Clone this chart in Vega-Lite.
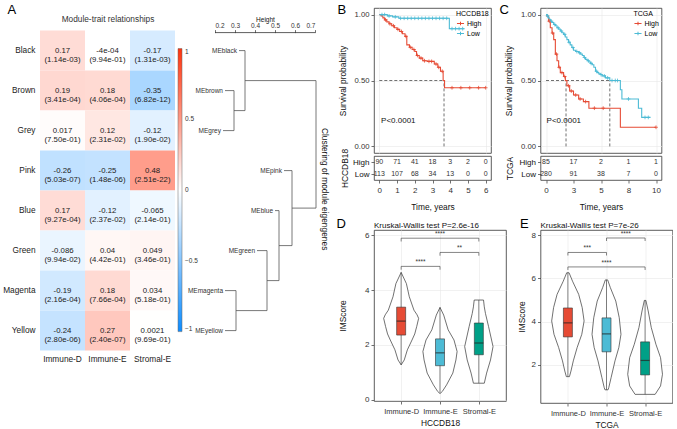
{
  "$schema": "https://vega.github.io/schema/vega-lite/v6.json",
  "background": "white",
  "padding": {"left": 2, "top": 3, "right": 0, "bottom": 0},
  "config": {
    "font": "Liberation Sans",
    "view": {"stroke": null},
    "axis": {"labelFont": "Liberation Sans", "titleFont": "Liberation Sans", "labelFontSize": 7.7, "titleFontSize": 8.4, "titleFontWeight": "normal", "labelColor": "#333333", "titleColor": "#111111", "tickColor": "#333333", "tickSize": 3, "tickWidth": 0.7, "domainColor": "#333333", "gridColor": "#E8E8E8", "gridWidth": 0.6, "labelPadding": 2, "titlePadding": 3},
    "title": {"font": "Liberation Sans", "fontWeight": "normal", "color": "#111111"},
    "legend": {"labelFont": "Liberation Sans", "titleFont": "Liberation Sans"}
  },
  "datasets": {
    "heat": [
      {"module": "Black", "trait": "Immune-D", "r": 0.17, "label": "0.17\n(1.14e-03)"},
      {"module": "Black", "trait": "Immune-E", "r": -0.0004, "label": "-4e-04\n(9.94e-01)"},
      {"module": "Black", "trait": "Stromal-E", "r": -0.17, "label": "-0.17\n(1.31e-03)"},
      {"module": "Brown", "trait": "Immune-D", "r": 0.19, "label": "0.19\n(3.41e-04)"},
      {"module": "Brown", "trait": "Immune-E", "r": 0.18, "label": "0.18\n(4.06e-04)"},
      {"module": "Brown", "trait": "Stromal-E", "r": -0.35, "label": "-0.35\n(6.82e-12)"},
      {"module": "Grey", "trait": "Immune-D", "r": 0.017, "label": "0.017\n(7.50e-01)"},
      {"module": "Grey", "trait": "Immune-E", "r": 0.12, "label": "0.12\n(2.31e-02)"},
      {"module": "Grey", "trait": "Stromal-E", "r": -0.12, "label": "-0.12\n(1.90e-02)"},
      {"module": "Pink", "trait": "Immune-D", "r": -0.26, "label": "-0.26\n(5.03e-07)"},
      {"module": "Pink", "trait": "Immune-E", "r": -0.25, "label": "-0.25\n(1.48e-06)"},
      {"module": "Pink", "trait": "Stromal-E", "r": 0.48, "label": "0.48\n(2.51e-22)"},
      {"module": "Blue", "trait": "Immune-D", "r": 0.17, "label": "0.17\n(9.27e-04)"},
      {"module": "Blue", "trait": "Immune-E", "r": -0.12, "label": "-0.12\n(2.37e-02)"},
      {"module": "Blue", "trait": "Stromal-E", "r": -0.065, "label": "-0.065\n(2.14e-01)"},
      {"module": "Green", "trait": "Immune-D", "r": -0.086, "label": "-0.086\n(9.94e-02)"},
      {"module": "Green", "trait": "Immune-E", "r": 0.04, "label": "0.04\n(4.42e-01)"},
      {"module": "Green", "trait": "Stromal-E", "r": 0.049, "label": "0.049\n(3.46e-01)"},
      {"module": "Magenta", "trait": "Immune-D", "r": -0.19, "label": "-0.19\n(2.16e-04)"},
      {"module": "Magenta", "trait": "Immune-E", "r": 0.18, "label": "0.18\n(7.66e-04)"},
      {"module": "Magenta", "trait": "Stromal-E", "r": 0.034, "label": "0.034\n(5.18e-01)"},
      {"module": "Yellow", "trait": "Immune-D", "r": -0.24, "label": "-0.24\n(2.80e-06)"},
      {"module": "Yellow", "trait": "Immune-E", "r": 0.27, "label": "0.27\n(2.40e-07)"},
      {"module": "Yellow", "trait": "Stromal-E", "r": 0.0021, "label": "0.0021\n(9.69e-01)"}
    ],
    "dseg": [
      {"x": 0.32, "x2": 0.35, "y": 1, "y2": 1},
      {"x": 0.25, "x2": 0.295, "y": 2, "y2": 2},
      {"x": 0.24, "x2": 0.295, "y": 3, "y2": 3},
      {"x": 0.545, "x2": 0.585, "y": 4, "y2": 4},
      {"x": 0.5, "x2": 0.52, "y": 5, "y2": 5},
      {"x": 0.41, "x2": 0.46, "y": 6, "y2": 6},
      {"x": 0.25, "x2": 0.305, "y": 7, "y2": 7},
      {"x": 0.25, "x2": 0.305, "y": 8, "y2": 8},
      {"x": 0.295, "x2": 0.295, "y": 2, "y2": 3},
      {"x": 0.35, "x2": 0.35, "y": 1, "y2": 2.5},
      {"x": 0.305, "x2": 0.305, "y": 7, "y2": 8},
      {"x": 0.46, "x2": 0.46, "y": 6, "y2": 7.5},
      {"x": 0.52, "x2": 0.52, "y": 5, "y2": 6.75},
      {"x": 0.585, "x2": 0.585, "y": 4, "y2": 5.875},
      {"x": 0.705, "x2": 0.705, "y": 1.75, "y2": 4.9375},
      {"x": 0.295, "x2": 0.35, "y": 2.5, "y2": 2.5},
      {"x": 0.35, "x2": 0.705, "y": 1.75, "y2": 1.75},
      {"x": 0.305, "x2": 0.46, "y": 7.5, "y2": 7.5},
      {"x": 0.46, "x2": 0.52, "y": 6.75, "y2": 6.75},
      {"x": 0.52, "x2": 0.585, "y": 5.875, "y2": 5.875},
      {"x": 0.585, "x2": 0.705, "y": 4.9375, "y2": 4.9375}
    ],
    "dleaf": [
      {"name": "MEblack", "h": 0.32, "i": 1},
      {"name": "MEbrown", "h": 0.25, "i": 2},
      {"name": "MEgrey", "h": 0.24, "i": 3},
      {"name": "MEpink", "h": 0.545, "i": 4},
      {"name": "MEblue", "h": 0.5, "i": 5},
      {"name": "MEgreen", "h": 0.41, "i": 6},
      {"name": "MEmagenta", "h": 0.25, "i": 7},
      {"name": "MEyellow", "h": 0.25, "i": 8}
    ],
    "survB": [
      {"g": "High", "t": 0, "s": 1}, {"g": "High", "t": 0.1, "s": 0.99}, {"g": "High", "t": 0.2, "s": 0.975}, {"g": "High", "t": 0.3, "s": 0.96},
      {"g": "High", "t": 0.42, "s": 0.945}, {"g": "High", "t": 0.55, "s": 0.93}, {"g": "High", "t": 0.7, "s": 0.915}, {"g": "High", "t": 0.85, "s": 0.9},
      {"g": "High", "t": 1.0, "s": 0.888}, {"g": "High", "t": 1.15, "s": 0.872}, {"g": "High", "t": 1.3, "s": 0.855}, {"g": "High", "t": 1.45, "s": 0.835},
      {"g": "High", "t": 1.55, "s": 0.77}, {"g": "High", "t": 1.7, "s": 0.752}, {"g": "High", "t": 1.85, "s": 0.735}, {"g": "High", "t": 2.0, "s": 0.72},
      {"g": "High", "t": 2.1, "s": 0.69}, {"g": "High", "t": 2.25, "s": 0.67}, {"g": "High", "t": 2.45, "s": 0.65}, {"g": "High", "t": 2.7, "s": 0.645},
      {"g": "High", "t": 3.1, "s": 0.625}, {"g": "High", "t": 3.3, "s": 0.6}, {"g": "High", "t": 3.45, "s": 0.57}, {"g": "High", "t": 3.6, "s": 0.5},
      {"g": "High", "t": 3.68, "s": 0.445}, {"g": "High", "t": 6.0, "s": 0.445},
      {"g": "Low", "t": 0, "s": 1}, {"g": "Low", "t": 0.45, "s": 0.99}, {"g": "Low", "t": 0.75, "s": 0.983}, {"g": "Low", "t": 1.1, "s": 0.972},
      {"g": "Low", "t": 3.95, "s": 0.893}, {"g": "Low", "t": 4.8, "s": 0.893}
    ],
    "censB": [
      {"g": "High", "t": 0.35, "s": 0.96}, {"g": "High", "t": 0.6, "s": 0.93}, {"g": "High", "t": 0.8, "s": 0.915}, {"g": "High", "t": 1.05, "s": 0.888},
      {"g": "High", "t": 1.25, "s": 0.872}, {"g": "High", "t": 1.5, "s": 0.835}, {"g": "High", "t": 1.75, "s": 0.752}, {"g": "High", "t": 1.95, "s": 0.735},
      {"g": "High", "t": 2.15, "s": 0.69}, {"g": "High", "t": 2.35, "s": 0.67}, {"g": "High", "t": 2.55, "s": 0.65}, {"g": "High", "t": 2.8, "s": 0.645},
      {"g": "High", "t": 2.95, "s": 0.645}, {"g": "High", "t": 3.2, "s": 0.625}, {"g": "High", "t": 3.35, "s": 0.6}, {"g": "High", "t": 3.55, "s": 0.57},
      {"g": "High", "t": 4.1, "s": 0.445}, {"g": "High", "t": 4.6, "s": 0.445}, {"g": "High", "t": 5.1, "s": 0.445}, {"g": "High", "t": 5.6, "s": 0.445}, {"g": "High", "t": 6.0, "s": 0.445},
      {"g": "Low", "t": 0.15, "s": 1}, {"g": "Low", "t": 0.3, "s": 1}, {"g": "Low", "t": 0.55, "s": 0.99}, {"g": "Low", "t": 0.9, "s": 0.983},
      {"g": "Low", "t": 1.2, "s": 0.972}, {"g": "Low", "t": 1.4, "s": 0.972}, {"g": "Low", "t": 1.6, "s": 0.972}, {"g": "Low", "t": 1.8, "s": 0.972},
      {"g": "Low", "t": 2.0, "s": 0.972}, {"g": "Low", "t": 2.2, "s": 0.972}, {"g": "Low", "t": 2.4, "s": 0.972}, {"g": "Low", "t": 2.6, "s": 0.972},
      {"g": "Low", "t": 2.8, "s": 0.972}, {"g": "Low", "t": 3.0, "s": 0.972}, {"g": "Low", "t": 3.2, "s": 0.972}, {"g": "Low", "t": 3.4, "s": 0.972},
      {"g": "Low", "t": 3.6, "s": 0.972}, {"g": "Low", "t": 3.8, "s": 0.972}, {"g": "Low", "t": 4.1, "s": 0.893}, {"g": "Low", "t": 4.3, "s": 0.893},
      {"g": "Low", "t": 4.5, "s": 0.893}, {"g": "Low", "t": 4.7, "s": 0.893}
    ],
    "medB": [
      {"x": 0, "x2": 3.65, "y": 0.5, "y2": 0.5},
      {"x": 3.65, "x2": 3.65, "y": 0, "y2": 0.5}
    ],
    "riskB": [
      {"g": "High", "t": 0, "n": "90"}, {"g": "High", "t": 1, "n": "71"}, {"g": "High", "t": 2, "n": "41"}, {"g": "High", "t": 3, "n": "18"},
      {"g": "High", "t": 4, "n": "3"}, {"g": "High", "t": 5, "n": "2"}, {"g": "High", "t": 6, "n": "0"},
      {"g": "Low", "t": 0, "n": "113"}, {"g": "Low", "t": 1, "n": "107"}, {"g": "Low", "t": 2, "n": "68"}, {"g": "Low", "t": 3, "n": "34"},
      {"g": "Low", "t": 4, "n": "13"}, {"g": "Low", "t": 5, "n": "0"}, {"g": "Low", "t": 6, "n": "0"}
    ],
    "survC": [
      {"g": "High", "t": 0, "s": 1}, {"g": "High", "t": 0.09, "s": 0.987}, {"g": "High", "t": 0.24, "s": 0.95}, {"g": "High", "t": 0.39, "s": 0.9},
      {"g": "High", "t": 0.55, "s": 0.86}, {"g": "High", "t": 0.7, "s": 0.81}, {"g": "High", "t": 0.85, "s": 0.7}, {"g": "High", "t": 1.0, "s": 0.65},
      {"g": "High", "t": 1.15, "s": 0.6}, {"g": "High", "t": 1.3, "s": 0.56}, {"g": "High", "t": 1.6, "s": 0.53}, {"g": "High", "t": 1.76, "s": 0.5},
      {"g": "High", "t": 1.9, "s": 0.46}, {"g": "High", "t": 2.15, "s": 0.42}, {"g": "High", "t": 2.5, "s": 0.39}, {"g": "High", "t": 2.97, "s": 0.36},
      {"g": "High", "t": 3.4, "s": 0.34}, {"g": "High", "t": 3.9, "s": 0.29}, {"g": "High", "t": 6.76, "s": 0.145}, {"g": "High", "t": 10, "s": 0.145},
      {"g": "Low", "t": 0, "s": 1}, {"g": "Low", "t": 0.1, "s": 0.99}, {"g": "Low", "t": 0.2, "s": 0.975}, {"g": "Low", "t": 0.3, "s": 0.965},
      {"g": "Low", "t": 0.4, "s": 0.95}, {"g": "Low", "t": 0.55, "s": 0.94}, {"g": "Low", "t": 0.7, "s": 0.925}, {"g": "Low", "t": 0.85, "s": 0.915},
      {"g": "Low", "t": 1.0, "s": 0.9}, {"g": "Low", "t": 1.15, "s": 0.89}, {"g": "Low", "t": 1.3, "s": 0.875}, {"g": "Low", "t": 1.45, "s": 0.862},
      {"g": "Low", "t": 1.6, "s": 0.85}, {"g": "Low", "t": 1.75, "s": 0.83}, {"g": "Low", "t": 1.9, "s": 0.81}, {"g": "Low", "t": 2.05, "s": 0.79},
      {"g": "Low", "t": 2.2, "s": 0.77}, {"g": "Low", "t": 2.35, "s": 0.75}, {"g": "Low", "t": 2.5, "s": 0.73}, {"g": "Low", "t": 2.7, "s": 0.72},
      {"g": "Low", "t": 2.97, "s": 0.71}, {"g": "Low", "t": 3.15, "s": 0.7}, {"g": "Low", "t": 3.3, "s": 0.69}, {"g": "Low", "t": 3.45, "s": 0.675},
      {"g": "Low", "t": 3.6, "s": 0.66}, {"g": "Low", "t": 3.75, "s": 0.65}, {"g": "Low", "t": 3.9, "s": 0.64}, {"g": "Low", "t": 4.05, "s": 0.63},
      {"g": "Low", "t": 4.2, "s": 0.62}, {"g": "Low", "t": 4.35, "s": 0.6}, {"g": "Low", "t": 4.5, "s": 0.57}, {"g": "Low", "t": 4.65, "s": 0.56},
      {"g": "Low", "t": 4.8, "s": 0.55}, {"g": "Low", "t": 4.95, "s": 0.545}, {"g": "Low", "t": 5.1, "s": 0.535}, {"g": "Low", "t": 5.4, "s": 0.52},
      {"g": "Low", "t": 5.8, "s": 0.5}, {"g": "Low", "t": 6.76, "s": 0.43}, {"g": "Low", "t": 6.9, "s": 0.36}, {"g": "Low", "t": 8.4, "s": 0.29},
      {"g": "Low", "t": 8.7, "s": 0.22}, {"g": "Low", "t": 9.5, "s": 0.22}
    ],
    "censC": [
      {"g": "High", "t": 0.3, "s": 0.95}, {"g": "High", "t": 0.6, "s": 0.86}, {"g": "High", "t": 0.95, "s": 0.7}, {"g": "High", "t": 1.2, "s": 0.6},
      {"g": "High", "t": 1.45, "s": 0.56}, {"g": "High", "t": 1.7, "s": 0.53}, {"g": "High", "t": 2.05, "s": 0.46}, {"g": "High", "t": 2.3, "s": 0.42},
      {"g": "High", "t": 2.7, "s": 0.39}, {"g": "High", "t": 3.1, "s": 0.36}, {"g": "High", "t": 3.6, "s": 0.34}, {"g": "High", "t": 4.4, "s": 0.29},
      {"g": "High", "t": 5.2, "s": 0.29}, {"g": "High", "t": 10, "s": 0.145},
      {"g": "Low", "t": 0.15, "s": 0.99}, {"g": "Low", "t": 0.5, "s": 0.95}, {"g": "Low", "t": 0.8, "s": 0.925}, {"g": "Low", "t": 1.1, "s": 0.9},
      {"g": "Low", "t": 1.4, "s": 0.875}, {"g": "Low", "t": 1.7, "s": 0.85}, {"g": "Low", "t": 2.1, "s": 0.79}, {"g": "Low", "t": 2.45, "s": 0.75},
      {"g": "Low", "t": 2.8, "s": 0.72}, {"g": "Low", "t": 3.05, "s": 0.71}, {"g": "Low", "t": 3.5, "s": 0.675}, {"g": "Low", "t": 3.85, "s": 0.65},
      {"g": "Low", "t": 4.1, "s": 0.63}, {"g": "Low", "t": 4.6, "s": 0.57}, {"g": "Low", "t": 5.0, "s": 0.545}, {"g": "Low", "t": 5.3, "s": 0.535},
      {"g": "Low", "t": 5.6, "s": 0.52}, {"g": "Low", "t": 6.0, "s": 0.5}, {"g": "Low", "t": 6.3, "s": 0.5}, {"g": "Low", "t": 6.5, "s": 0.5},
      {"g": "Low", "t": 7.5, "s": 0.36}, {"g": "Low", "t": 9.0, "s": 0.22}, {"g": "Low", "t": 9.3, "s": 0.22}
    ],
    "medC": [
      {"x": 0, "x2": 5.8, "y": 0.5, "y2": 0.5},
      {"x": 1.82, "x2": 1.82, "y": 0, "y2": 0.5},
      {"x": 5.8, "x2": 5.8, "y": 0, "y2": 0.5}
    ],
    "riskC": [
      {"g": "High", "t": 0, "n": "85"}, {"g": "High", "t": 2.5, "n": "17"}, {"g": "High", "t": 5, "n": "2"}, {"g": "High", "t": 7.5, "n": "1"}, {"g": "High", "t": 10, "n": "1"},
      {"g": "Low", "t": 0, "n": "280"}, {"g": "Low", "t": 2.5, "n": "91"}, {"g": "Low", "t": 5, "n": "38"}, {"g": "Low", "t": 7.5, "n": "7"}, {"g": "Low", "t": 10, "n": "0"}
    ],
    "violD": [
      {"g": "Immune-D", "y": 1.27, "lo": 1.0, "hi": 1.0}, {"g": "Immune-D", "y": 1.45, "lo": 0.92, "hi": 1.08},
      {"g": "Immune-D", "y": 1.82, "lo": 0.84, "hi": 1.16}, {"g": "Immune-D", "y": 2.18, "lo": 0.72, "hi": 1.28},
      {"g": "Immune-D", "y": 2.4, "lo": 0.65, "hi": 1.35}, {"g": "Immune-D", "y": 2.67, "lo": 0.6, "hi": 1.4},
      {"g": "Immune-D", "y": 2.97, "lo": 0.55, "hi": 1.45}, {"g": "Immune-D", "y": 3.1, "lo": 0.59, "hi": 1.41},
      {"g": "Immune-D", "y": 3.27, "lo": 0.67, "hi": 1.33}, {"g": "Immune-D", "y": 3.76, "lo": 0.79, "hi": 1.21},
      {"g": "Immune-D", "y": 4.24, "lo": 0.865, "hi": 1.135}, {"g": "Immune-D", "y": 4.65, "lo": 1.0, "hi": 1.0},
      {"g": "Immune-E", "y": 0.22, "lo": 2.0, "hi": 2.0}, {"g": "Immune-E", "y": 0.3, "lo": 1.94, "hi": 2.06},
      {"g": "Immune-E", "y": 0.54, "lo": 1.83, "hi": 2.17}, {"g": "Immune-E", "y": 0.97, "lo": 1.67, "hi": 2.33},
      {"g": "Immune-E", "y": 1.45, "lo": 1.59, "hi": 2.41}, {"g": "Immune-E", "y": 1.76, "lo": 1.56, "hi": 2.44},
      {"g": "Immune-E", "y": 2.18, "lo": 1.64, "hi": 2.36}, {"g": "Immune-E", "y": 2.55, "lo": 1.79, "hi": 2.21},
      {"g": "Immune-E", "y": 3.09, "lo": 1.905, "hi": 2.095}, {"g": "Immune-E", "y": 3.37, "lo": 2.0, "hi": 2.0},
      {"g": "Stromal-E", "y": 0.6, "lo": 2.86, "hi": 3.14}, {"g": "Stromal-E", "y": 0.97, "lo": 2.8, "hi": 3.2},
      {"g": "Stromal-E", "y": 1.45, "lo": 2.7, "hi": 3.3}, {"g": "Stromal-E", "y": 1.94, "lo": 2.635, "hi": 3.365},
      {"g": "Stromal-E", "y": 2.67, "lo": 2.75, "hi": 3.25}, {"g": "Stromal-E", "y": 3.15, "lo": 2.83, "hi": 3.17},
      {"g": "Stromal-E", "y": 3.39, "lo": 2.86, "hi": 3.14}, {"g": "Stromal-E", "y": 3.64, "lo": 2.88, "hi": 3.12}
    ],
    "boxD": [
      {"g": "Immune-D", "gi": 1, "wmin": 1.27, "q1": 2.36, "med": 2.87, "q3": 3.38, "wmax": 4.65},
      {"g": "Immune-E", "gi": 2, "wmin": 0.25, "q1": 1.24, "med": 1.71, "q3": 2.22, "wmax": 3.37},
      {"g": "Stromal-E", "gi": 3, "wmin": 0.6, "q1": 1.64, "med": 2.07, "q3": 2.8, "wmax": 3.64}
    ],
    "brD": [
      {"x1": 1, "x2": 3, "xm": 2, "y": 5.9, "yt": 5.78, "lab": "****"},
      {"x1": 2, "x2": 3, "xm": 2.5, "y": 5.38, "yt": 5.26, "lab": "**"},
      {"x1": 1, "x2": 2, "xm": 1.5, "y": 4.87, "yt": 4.75, "lab": "****"}
    ],
    "violE": [
      {"g": "Immune-D", "y": 1.45, "lo": 0.96, "hi": 1.04}, {"g": "Immune-D", "y": 1.71, "lo": 0.92, "hi": 1.08},
      {"g": "Immune-D", "y": 2.18, "lo": 0.86, "hi": 1.14}, {"g": "Immune-D", "y": 2.8, "lo": 0.76, "hi": 1.24},
      {"g": "Immune-D", "y": 3.41, "lo": 0.64, "hi": 1.36}, {"g": "Immune-D", "y": 4.03, "lo": 0.58, "hi": 1.42},
      {"g": "Immune-D", "y": 4.65, "lo": 0.63, "hi": 1.37}, {"g": "Immune-D", "y": 5.26, "lo": 0.72, "hi": 1.28},
      {"g": "Immune-D", "y": 5.87, "lo": 0.88, "hi": 1.12}, {"g": "Immune-D", "y": 6.26, "lo": 0.97, "hi": 1.03},
      {"g": "Immune-E", "y": 0.84, "lo": 1.96, "hi": 2.04}, {"g": "Immune-E", "y": 0.95, "lo": 1.94, "hi": 2.06},
      {"g": "Immune-E", "y": 1.41, "lo": 1.88, "hi": 2.12}, {"g": "Immune-E", "y": 2.18, "lo": 1.78, "hi": 2.22},
      {"g": "Immune-E", "y": 2.8, "lo": 1.68, "hi": 2.32}, {"g": "Immune-E", "y": 3.41, "lo": 1.625, "hi": 2.375},
      {"g": "Immune-E", "y": 4.18, "lo": 1.67, "hi": 2.33}, {"g": "Immune-E", "y": 4.95, "lo": 1.76, "hi": 2.24},
      {"g": "Immune-E", "y": 5.57, "lo": 1.9, "hi": 2.1}, {"g": "Immune-E", "y": 5.93, "lo": 1.97, "hi": 2.03},
      {"g": "Stromal-E", "y": 0.63, "lo": 2.74, "hi": 3.26}, {"g": "Stromal-E", "y": 1.02, "lo": 2.6, "hi": 3.4},
      {"g": "Stromal-E", "y": 1.56, "lo": 2.55, "hi": 3.45}, {"g": "Stromal-E", "y": 2.33, "lo": 2.6, "hi": 3.4},
      {"g": "Stromal-E", "y": 2.95, "lo": 2.72, "hi": 3.28}, {"g": "Stromal-E", "y": 3.72, "lo": 2.84, "hi": 3.16},
      {"g": "Stromal-E", "y": 4.49, "lo": 2.92, "hi": 3.08}, {"g": "Stromal-E", "y": 4.98, "lo": 2.98, "hi": 3.02}
    ],
    "boxE": [
      {"g": "Immune-D", "gi": 1, "wmin": 1.45, "q1": 3.29, "med": 3.94, "q3": 4.63, "wmax": 6.26},
      {"g": "Immune-E", "gi": 2, "wmin": 0.84, "q1": 2.6, "med": 3.43, "q3": 4.17, "wmax": 5.93},
      {"g": "Stromal-E", "gi": 3, "wmin": 0.63, "q1": 1.53, "med": 2.2, "q3": 3.06, "wmax": 4.98}
    ],
    "brE": [
      {"x1": 2, "x2": 3, "xm": 2.5, "y": 7.87, "yt": 7.73, "lab": "****"},
      {"x1": 1, "x2": 2, "xm": 1.5, "y": 7.2, "yt": 7.06, "lab": "***"},
      {"x1": 1, "x2": 3, "xm": 2, "y": 6.53, "yt": 6.39, "lab": "****"}
    ],
    "dummy": [{"v": 0}]
  },
  "spacing": 8,
  "resolve": {"scale": {"color": "independent"}, "legend": {"color": "independent"}},
  "hconcat": [
    {
      "width": 275, "height": 342.6,
      "resolve": {"scale": {"x": "independent", "y": "independent"}, "axis": {"x": "independent", "y": "independent"}},
      "layer": [
        {
          "data": {"name": "heat"},
          "encoding": {
            "x": {"field": "trait", "type": "nominal", "sort": ["Immune-D", "Immune-E", "Stromal-E"], "scale": {"range": [0, 135], "paddingInner": 0, "paddingOuter": 0},
                  "axis": {"title": "A", "titleX": -33, "titleY": -337, "titleAngle": 0, "titleAlign": "left", "titleBaseline": "alphabetic", "titleFontSize": 13, "titleColor": "#000000", "labelAngle": 0, "ticks": false, "domain": false, "labelFontSize": 8.3, "labelPadding": 4, "labelColor": "#222222"}},
            "y": {"field": "module", "type": "nominal", "sort": ["Black", "Brown", "Grey", "Pink", "Blue", "Green", "Magenta", "Yellow"], "scale": {"range": [22.6, 342.6], "paddingInner": 0, "paddingOuter": 0},
                  "axis": {"title": "Module-trait relationships", "titleX": 67.5, "titleY": 13.6, "titleAngle": 0, "titleAlign": "center", "titleBaseline": "alphabetic", "titleFontSize": 8.3, "titleColor": "#333333", "ticks": false, "domain": false, "labelFontSize": 8.3, "labelPadding": 5, "labelColor": "#222222"}}
          },
          "layer": [
            {"mark": {"type": "rect"}, "encoding": {"color": {"field": "r", "type": "quantitative", "scale": {"domain": [-1, 0, 1], "range": ["#0D8CFF", "#FFFFFF", "#FF330D"], "interpolate": "rgb"}, "legend": {"orient": "none", "legendX": 138, "legendY": 40.6, "direction": "vertical", "gradientLength": 283, "gradientThickness": 4, "title": null, "values": [-1, -0.5, 0, 0.5, 1], "format": "~g", "labelFontSize": 6.5, "labelColor": "#333333", "gradientStrokeWidth": 0.5, "gradientStrokeColor": "#666666", "labelOffset": 3}}}},
            {"mark": {"type": "text", "lineBreak": "\n", "fontSize": 7.8, "lineHeight": 9.5, "color": "#222222"}, "encoding": {"text": {"field": "label"}}}
          ]
        },
        {
          "layer": [
            {
              "data": {"name": "dseg"},
              "mark": {"type": "rule", "color": "#555555", "strokeWidth": 0.8},
              "encoding": {
                "x": {"field": "x", "type": "quantitative", "scale": {"domain": [0.2, 0.7], "range": [175, 275], "nice": false, "zero": false},
                      "axis": {"orient": "top", "offset": -24.6, "values": [0.2, 0.3, 0.4, 0.5, 0.6, 0.7], "title": "Height", "titleX": 225, "titleY": -11, "titleAlign": "center", "titleBaseline": "alphabetic", "domain": false, "grid": false, "labelFontSize": 6.5, "titleFontSize": 6.5, "labelPadding": 1}},
                "x2": {"field": "x2"},
                "y": {"field": "y", "type": "quantitative", "scale": {"domain": [0.5, 8.5], "range": [22.6, 342.6], "nice": false, "zero": false},
                      "axis": {"orient": "right", "title": "Clustering of module eigengenes", "titleX": 9, "titleY": 180.6, "titleAngle": 90, "titleBaseline": "middle", "labels": false, "ticks": false, "domain": false, "grid": false, "titleFontSize": 8.4}},
                "y2": {"field": "y2"}
              }
            },
            {
              "data": {"name": "dleaf"},
              "mark": {"type": "text", "align": "right", "dx": -2, "fontSize": 6.5, "color": "#333333"},
              "encoding": {"x": {"field": "h", "type": "quantitative"}, "y": {"field": "i", "type": "quantitative"}, "text": {"field": "name"}}
            },
            {
              "data": {"values": [{"x": 0.2, "x2": 0.7, "y": 0.55}]},
              "mark": {"type": "rule", "color": "#333333", "strokeWidth": 0.8},
              "encoding": {"x": {"field": "x", "type": "quantitative"}, "x2": {"field": "x2"}, "y": {"field": "y", "type": "quantitative"}}
            }
          ]
        }
      ]
    },
    {
      "columns": 2,
      "bounds": "flush",
      "align": "each",
      "spacing": {"row": 0, "column": 34.5},
      "resolve": {"scale": {"color": "independent"}, "legend": {"color": "independent"}},
      "concat": [
        {
          "width": 117, "height": 145,
          "view": {"stroke": "#333333", "strokeWidth": 0.8},
          "layer": [
            {"data": {"name": "medB"}, "mark": {"type": "rule", "strokeDash": [3, 2], "color": "#333333", "strokeWidth": 0.7},
             "encoding": {"x": {"field": "x", "type": "quantitative", "scale": {"domain": [-0.3, 6.3], "nice": false, "zero": false}, "axis": {"values": [0, 1, 2, 3, 4, 5, 6], "labels": false, "ticks": false, "domain": false, "grid": true, "title": "B", "titleX": -37, "titleY": -139.4, "titleAngle": 0, "titleAlign": "left", "titleBaseline": "alphabetic", "titleFontSize": 13, "titleColor": "#000000"}}, "x2": {"field": "x2"},
                          "y": {"field": "y", "type": "quantitative", "scale": {"domain": [-0.05, 1.05], "nice": false, "zero": false}, "axis": {"values": [0, 0.25, 0.5, 0.75, 1], "format": ".2f", "title": "Survival probability", "titleX": -32, "titleBaseline": "middle", "domain": false, "grid": true}}, "y2": {"field": "y2"}}},
            {"data": {"name": "survB"}, "mark": {"type": "line", "interpolate": "step-after", "strokeWidth": 1.1},
             "encoding": {"x": {"field": "t", "type": "quantitative"}, "y": {"field": "s", "type": "quantitative"},
                          "color": {"field": "g", "type": "nominal", "scale": {"domain": ["High", "Low"], "range": ["#E64B35", "#4DBBD5"]}, "legend": {"orient": "top-right", "title": "HCCDB18", "titleFontSize": 7, "titleFontWeight": "normal", "labelFontSize": 7, "symbolType": "M-1,0L1,0M0,-0.5L0,0.5", "symbolSize": 50, "symbolStrokeWidth": 1, "offset": 2, "padding": 0, "rowPadding": 1, "titlePadding": 2, "labelOffset": 2}}}},
            {"data": {"name": "censB"}, "mark": {"type": "point", "shape": "M-1,0L1,0M0,-1L0,1", "filled": false, "size": 14, "strokeWidth": 0.8, "opacity": 1},
             "encoding": {"x": {"field": "t", "type": "quantitative"}, "y": {"field": "s", "type": "quantitative"}, "color": {"field": "g", "type": "nominal"}}},
            {"data": {"values": [{"t": 0.1, "s": 0.19, "lab": "P<0.0001"}]}, "mark": {"type": "text", "align": "left", "fontSize": 8, "color": "#111111"},
             "encoding": {"x": {"field": "t", "type": "quantitative"}, "y": {"field": "s", "type": "quantitative"}, "text": {"field": "lab"}}}
          ]
        },
        {
          "width": 121, "height": 145,
          "view": {"stroke": "#333333", "strokeWidth": 0.8},
          "layer": [
            {"data": {"name": "medC"}, "mark": {"type": "rule", "strokeDash": [3, 2], "color": "#333333", "strokeWidth": 0.7},
             "encoding": {"x": {"field": "x", "type": "quantitative", "scale": {"domain": [-0.5, 10.5], "nice": false, "zero": false}, "axis": {"values": [0, 2.5, 5, 7.5, 10], "labels": false, "ticks": false, "domain": false, "grid": true, "title": "C", "titleX": -41.5, "titleY": -139.4, "titleAngle": 0, "titleAlign": "left", "titleBaseline": "alphabetic", "titleFontSize": 13, "titleColor": "#000000"}}, "x2": {"field": "x2"},
                          "y": {"field": "y", "type": "quantitative", "scale": {"domain": [-0.05, 1.05], "nice": false, "zero": false}, "axis": {"values": [0, 0.25, 0.5, 0.75, 1], "format": ".2f", "title": "Survival probability", "titleX": -32, "titleBaseline": "middle", "domain": false, "grid": true}}, "y2": {"field": "y2"}}},
            {"data": {"name": "survC"}, "mark": {"type": "line", "interpolate": "step-after", "strokeWidth": 1.1},
             "encoding": {"x": {"field": "t", "type": "quantitative"}, "y": {"field": "s", "type": "quantitative"},
                          "color": {"field": "g", "type": "nominal", "scale": {"domain": ["High", "Low"], "range": ["#E64B35", "#4DBBD5"]}, "legend": {"orient": "top-right", "title": "TCGA", "titleFontSize": 7, "titleFontWeight": "normal", "labelFontSize": 7, "symbolType": "M-1,0L1,0M0,-0.5L0,0.5", "symbolSize": 50, "symbolStrokeWidth": 1, "offset": 2, "padding": 0, "rowPadding": 1, "titlePadding": 2, "labelOffset": 2}}}},
            {"data": {"name": "censC"}, "mark": {"type": "point", "shape": "M-1,0L1,0M0,-1L0,1", "filled": false, "size": 14, "strokeWidth": 0.8, "opacity": 1},
             "encoding": {"x": {"field": "t", "type": "quantitative"}, "y": {"field": "s", "type": "quantitative"}, "color": {"field": "g", "type": "nominal"}}},
            {"data": {"values": [{"t": 0.05, "s": 0.19, "lab": "P<0.0001"}]}, "mark": {"type": "text", "align": "left", "fontSize": 8, "color": "#111111"},
             "encoding": {"x": {"field": "t", "type": "quantitative"}, "y": {"field": "s", "type": "quantitative"}, "text": {"field": "lab"}}}
          ]
        },
        {"width": 117, "height": 2.4, "data": {"values": []}, "mark": "point"},
        {"width": 121, "height": 2.4, "data": {"values": []}, "mark": "point"},
        {
          "width": 117, "height": 24,
          "view": {"stroke": "#333333", "strokeWidth": 0.8},
          "data": {"name": "riskB"},
          "mark": {"type": "text", "fontSize": 7, "color": "#333333"},
          "encoding": {
            "x": {"field": "t", "type": "quantitative", "scale": {"domain": [-0.3, 6.3], "nice": false, "zero": false}, "axis": {"values": [0, 1, 2, 3, 4, 5, 6], "title": "Time, years", "grid": false, "domain": false, "labelFontSize": 8, "labelPadding": 3, "titlePadding": 8}},
            "y": {"field": "g", "type": "nominal", "sort": ["High", "Low"], "axis": {"title": "HCCDB18", "titleX": -30, "titleBaseline": "middle", "domain": false, "labelColor": "#111111", "labelFontSize": 8}},
            "text": {"field": "n"}
          }
        },
        {
          "width": 121, "height": 24,
          "view": {"stroke": "#333333", "strokeWidth": 0.8},
          "data": {"name": "riskC"},
          "mark": {"type": "text", "fontSize": 7, "color": "#333333"},
          "encoding": {
            "x": {"field": "t", "type": "quantitative", "scale": {"domain": [-0.5, 10.5], "nice": false, "zero": false}, "axis": {"values": [0, 2.5, 5, 7.5, 10], "title": "Time, years", "grid": false, "domain": false, "labelFontSize": 8, "labelPadding": 3, "titlePadding": 8}},
            "y": {"field": "g", "type": "nominal", "sort": ["High", "Low"], "axis": {"title": "TCGA", "titleX": -31, "titleBaseline": "middle", "domain": false, "labelColor": "#111111", "labelFontSize": 8}},
            "text": {"field": "n"}
          }
        },
        {"width": 132, "height": 50, "data": {"name": "dummy"}, "mark": {"type": "point", "opacity": 0},
         "encoding": {"x": {"field": "v", "type": "quantitative", "axis": {"labels": false, "ticks": false, "domain": false, "grid": false, "title": "D", "titleX": -38, "titleY": -3, "titleAngle": 0, "titleAlign": "left", "titleBaseline": "alphabetic", "titleFontSize": 13, "titleColor": "#000000"}}}},
        {"width": 132, "height": 49.2, "data": {"name": "dummy"}, "mark": {"type": "point", "opacity": 0},
         "encoding": {"x": {"field": "v", "type": "quantitative", "axis": {"labels": false, "ticks": false, "domain": false, "grid": false, "title": "E", "titleX": -21, "titleY": -2, "titleAngle": 0, "titleAlign": "left", "titleBaseline": "alphabetic", "titleFontSize": 13, "titleColor": "#000000"}}}},
        {
          "width": 132, "height": 171,
          "view": {"stroke": "#333333", "strokeWidth": 0.8},
          "title": {"text": "Kruskal-Wallis test P=2.6e-16", "anchor": "start", "frame": "group", "fontSize": 8, "offset": -6, "baseline": "alphabetic", "color": "#111111"},
          "layer": [
            {"data": {"name": "violD"}, "mark": {"type": "area", "orient": "horizontal", "fill": "white", "stroke": "#333333", "strokeWidth": 0.7},
             "encoding": {"y": {"field": "y", "type": "quantitative", "scale": {"domain": [-0.05, 6.2], "nice": false, "zero": false}, "axis": {"values": [0, 2, 4, 6], "title": "IMScore", "titleX": -32, "titleBaseline": "middle", "grid": true, "domain": false, "labelFontSize": 8}},
                          "x": {"field": "lo", "type": "quantitative", "scale": {"domain": [0.43, 3.57], "nice": false, "zero": false}, "axis": {"values": [1, 2, 3], "labelExpr": "datum.value == 1 ? 'Immune-D' : (datum.value == 2 ? 'Immune-E' : 'Stromal-E')", "title": "HCCDB18", "grid": true, "domain": false, "labelFontSize": 7.5, "labelPadding": 3, "titlePadding": 4}},
                          "x2": {"field": "hi"}, "detail": {"field": "g"}}},
            {"data": {"name": "boxD"}, "mark": {"type": "rule", "color": "#444444", "strokeWidth": 0.7},
             "encoding": {"x": {"field": "gi", "type": "quantitative"}, "y": {"field": "wmin", "type": "quantitative"}, "y2": {"field": "wmax"}}},
            {"data": {"name": "boxD"}, "mark": {"type": "bar", "width": 9, "stroke": "#333333", "strokeWidth": 0.6},
             "encoding": {"x": {"field": "gi", "type": "quantitative"}, "y": {"field": "q1", "type": "quantitative"}, "y2": {"field": "q3"},
                          "color": {"field": "g", "type": "nominal", "scale": {"domain": ["Immune-D", "Immune-E", "Stromal-E"], "range": ["#E64B35", "#4DBBD5", "#00A087"]}, "legend": null}}},
            {"data": {"name": "boxD"}, "mark": {"type": "tick", "orient": "horizontal", "size": 9, "thickness": 1.2, "color": "#222222"},
             "encoding": {"x": {"field": "gi", "type": "quantitative"}, "y": {"field": "med", "type": "quantitative"}}},
            {"data": {"name": "brD"}, "mark": {"type": "rule", "color": "#333333", "strokeWidth": 0.6},
             "encoding": {"x": {"field": "x1", "type": "quantitative"}, "x2": {"field": "x2"}, "y": {"field": "y", "type": "quantitative"}}},
            {"data": {"name": "brD"}, "mark": {"type": "rule", "color": "#333333", "strokeWidth": 0.6},
             "encoding": {"x": {"field": "x1", "type": "quantitative"}, "y": {"field": "y", "type": "quantitative"}, "y2": {"field": "yt"}}},
            {"data": {"name": "brD"}, "mark": {"type": "rule", "color": "#333333", "strokeWidth": 0.6},
             "encoding": {"x": {"field": "x2", "type": "quantitative"}, "y": {"field": "y", "type": "quantitative"}, "y2": {"field": "yt"}}},
            {"data": {"name": "brD"}, "mark": {"type": "text", "baseline": "bottom", "dy": -1, "fontSize": 6.5, "color": "#333333"},
             "encoding": {"x": {"field": "xm", "type": "quantitative"}, "y": {"field": "y", "type": "quantitative"}, "text": {"field": "lab"}}}
          ]
        },
        {
          "width": 132, "height": 173,
          "view": {"stroke": "#333333", "strokeWidth": 0.8},
          "title": {"text": "Kruskal-Wallis test P=7e-26", "anchor": "start", "frame": "group", "fontSize": 8, "offset": -6, "baseline": "alphabetic", "color": "#111111"},
          "layer": [
            {"data": {"name": "violE"}, "mark": {"type": "area", "orient": "horizontal", "fill": "white", "stroke": "#333333", "strokeWidth": 0.7},
             "encoding": {"y": {"field": "y", "type": "quantitative", "scale": {"domain": [0.23, 8.24], "nice": false, "zero": false}, "axis": {"values": [2, 4, 6, 8], "title": "IMScore", "titleX": -19, "titleBaseline": "middle", "grid": true, "domain": false, "labelFontSize": 8}},
                          "x": {"field": "lo", "type": "quantitative", "scale": {"domain": [0.42, 3.58], "nice": false, "zero": false}, "axis": {"values": [1, 2, 3], "labelExpr": "datum.value == 1 ? 'Immune-D' : (datum.value == 2 ? 'Immune-E' : 'Stromal-E')", "title": "TCGA", "grid": true, "domain": false, "labelFontSize": 7.5, "labelPadding": 3, "titlePadding": 4}},
                          "x2": {"field": "hi"}, "detail": {"field": "g"}}},
            {"data": {"name": "boxE"}, "mark": {"type": "rule", "color": "#444444", "strokeWidth": 0.7},
             "encoding": {"x": {"field": "gi", "type": "quantitative"}, "y": {"field": "wmin", "type": "quantitative"}, "y2": {"field": "wmax"}}},
            {"data": {"name": "boxE"}, "mark": {"type": "bar", "width": 9, "stroke": "#333333", "strokeWidth": 0.6},
             "encoding": {"x": {"field": "gi", "type": "quantitative"}, "y": {"field": "q1", "type": "quantitative"}, "y2": {"field": "q3"},
                          "color": {"field": "g", "type": "nominal", "scale": {"domain": ["Immune-D", "Immune-E", "Stromal-E"], "range": ["#E64B35", "#4DBBD5", "#00A087"]}, "legend": null}}},
            {"data": {"name": "boxE"}, "mark": {"type": "tick", "orient": "horizontal", "size": 9, "thickness": 1.2, "color": "#222222"},
             "encoding": {"x": {"field": "gi", "type": "quantitative"}, "y": {"field": "med", "type": "quantitative"}}},
            {"data": {"name": "brE"}, "mark": {"type": "rule", "color": "#333333", "strokeWidth": 0.6},
             "encoding": {"x": {"field": "x1", "type": "quantitative"}, "x2": {"field": "x2"}, "y": {"field": "y", "type": "quantitative"}}},
            {"data": {"name": "brE"}, "mark": {"type": "rule", "color": "#333333", "strokeWidth": 0.6},
             "encoding": {"x": {"field": "x1", "type": "quantitative"}, "y": {"field": "y", "type": "quantitative"}, "y2": {"field": "yt"}}},
            {"data": {"name": "brE"}, "mark": {"type": "rule", "color": "#333333", "strokeWidth": 0.6},
             "encoding": {"x": {"field": "x2", "type": "quantitative"}, "y": {"field": "y", "type": "quantitative"}, "y2": {"field": "yt"}}},
            {"data": {"name": "brE"}, "mark": {"type": "text", "baseline": "bottom", "dy": -1, "fontSize": 6.5, "color": "#333333"},
             "encoding": {"x": {"field": "xm", "type": "quantitative"}, "y": {"field": "y", "type": "quantitative"}, "text": {"field": "lab"}}}
          ]
        }
      ]
    }
  ]
}
